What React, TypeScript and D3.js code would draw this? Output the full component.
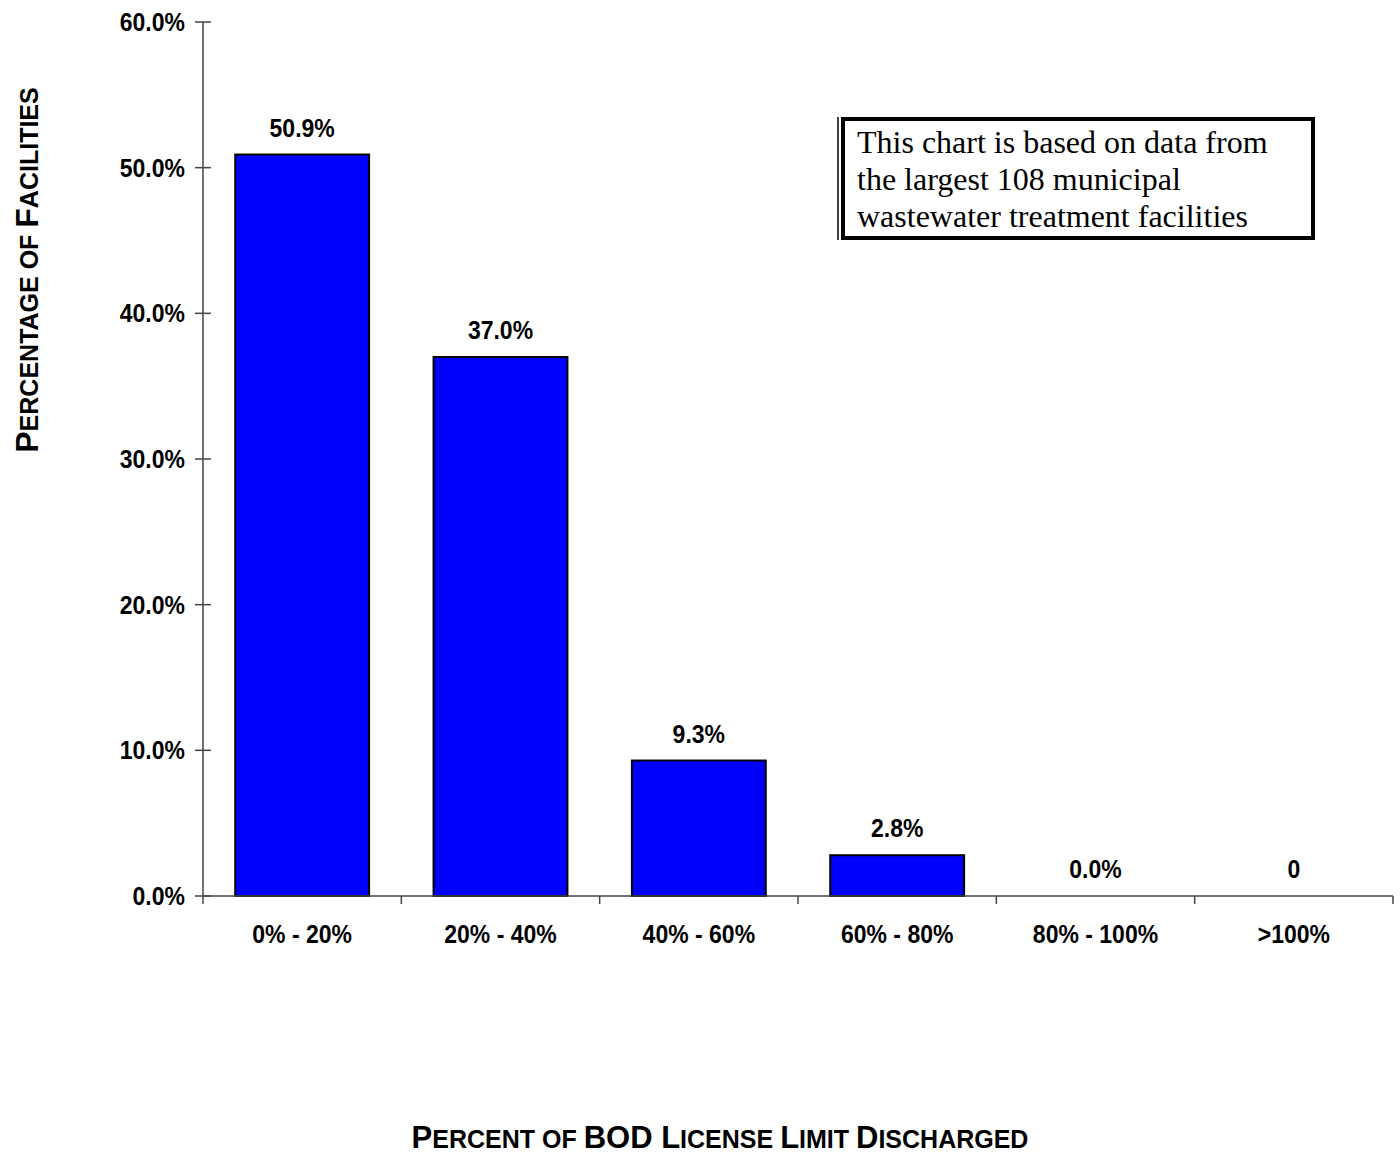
import React, { useEffect } from "react";
import * as d3 from "d3";

const categories = ["0% - 20%", "20% - 40%", "40% - 60%", "60% - 80%", "80% - 100%", ">100%"];
const values = [50.9, 37.0, 9.3, 2.8, 0.0, 0];
const valueLabels = ["50.9%", "37.0%", "9.3%", "2.8%", "0.0%", "0"];
const yTicks = [0, 10, 20, 30, 40, 50, 60];
const noteLines = [
  "This chart is based on data from",
  "the largest 108 municipal",
  "wastewater treatment facilities",
];

const W = 1400;
const H = 1155;
const plot = { left: 203, right: 1393, top: 22, bottom: 896 };
const FONT = "Arial, 'Liberation Sans', Helvetica, sans-serif";
const SERIF = "'Times New Roman', 'Liberation Serif', serif";
const SX = 0.92;

function SmallCaps({ parts, big, small }: { parts: [string, boolean][]; big: number; small: number }) {
  return (
    <>
      {parts.map(([t, isBig], i) => (
        <tspan key={i} fontSize={isBig ? big : small}>{t}</tspan>
      ))}
    </>
  );
}

function Label({ x, y, anchor, children }: { x: number; y: number; anchor: string; children: React.ReactNode }) {
  return (
    <text transform={`translate(${x},${y}) scale(${SX},1)`} textAnchor={anchor} fontSize={25} fontWeight="bold" fill="#000">
      {children}
    </text>
  );
}

export default function App() {
  useEffect(() => {
    document.body.style.margin = "0";
    document.body.style.overflow = "hidden";
  }, []);

  const x = d3.scaleBand<string>().domain(categories).range([plot.left, plot.right]).paddingInner(0.325).paddingOuter(0.1625);
  const xTickScale = d3.scaleLinear().domain([0, categories.length]).range([plot.left, plot.right]);
  const y = d3.scaleLinear().domain([0, 60]).range([plot.bottom, plot.top]);
  const axisColor = "#444";

  return (
    <svg width={W} height={H} style={{ position: "absolute", left: 0, top: 0, background: "#fff" }} fontFamily={FONT}>
      {/* bars */}
      {categories.map((c, i) => {
        const v = values[i];
        if (v <= 0) return null;
        return (
          <rect key={c} x={x(c)!} y={y(v)} width={x.bandwidth()} height={y(0) - y(v)} fill="#0000FF" stroke="#000" strokeWidth={2} />
        );
      })}

      {/* y axis */}
      <line x1={plot.left} x2={plot.left} y1={plot.top} y2={plot.bottom} stroke={axisColor} strokeWidth={1.5} />
      {yTicks.map((t) => (
        <g key={t}>
          <line x1={plot.left - 8} x2={plot.left + 8} y1={y(t)} y2={y(t)} stroke={axisColor} strokeWidth={1.5} />
          <Label x={185} y={y(t) + 9} anchor="end">
            {d3.format(".1f")(t) + "%"}
          </Label>
        </g>
      ))}

      {/* x axis */}
      <line x1={plot.left} x2={plot.right} y1={plot.bottom} y2={plot.bottom} stroke={axisColor} strokeWidth={1.5} />
      {d3.range(categories.length + 1).map((i) => (
        <line key={i} x1={xTickScale(i)} x2={xTickScale(i)} y1={plot.bottom} y2={plot.bottom + 8} stroke={axisColor} strokeWidth={1.5} />
      ))}
      {categories.map((c) => (
        <Label key={c} x={x(c)! + x.bandwidth() / 2} y={943} anchor="middle">
          {c}
        </Label>
      ))}

      {/* value labels */}
      {categories.map((c, i) => (
        <Label key={c} x={x(c)! + x.bandwidth() / 2} y={y(values[i]) - 18} anchor="middle">
          {valueLabels[i]}
        </Label>
      ))}

      {/* note box */}
      <line x1={838} x2={838} y1={117} y2={240} stroke="#000" strokeWidth={1.5} />
      <rect x={843} y={119} width={470} height={119} fill="#fff" stroke="#000" strokeWidth={4} />
      {noteLines.map((l, i) => (
        <text key={i} x={857} y={153 + i * 37} fontFamily={SERIF} fontSize={32} fill="#000">
          {l}
        </text>
      ))}

      {/* y title */}
      <text transform="translate(38,270) rotate(-90)" textAnchor="middle" fontWeight="bold" fill="#000">
        <SmallCaps
          big={32}
          small={25}
          parts={[["P", true], ["ERCENTAGE OF ", false], ["F", true], ["ACILITIES", false]]}
        />
      </text>

      {/* x title */}
      <text x={720} y={1148} textAnchor="middle" fontWeight="bold" fill="#000">
        <SmallCaps
          big={31}
          small={25}
          parts={[["P", true], ["ERCENT OF ", false], ["BOD L", true], ["ICENSE ", false], ["L", true], ["IMIT ", false], ["D", true], ["ISCHARGED", false]]}
        />
      </text>
    </svg>
  );
}
